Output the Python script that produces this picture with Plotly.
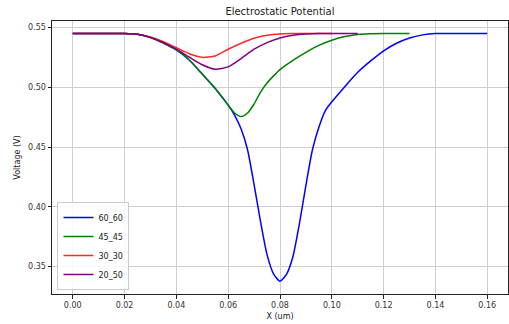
import plotly.graph_objects as go

# ---- data ----
x_60_60 = [0.000, 0.005, 0.010, 0.015, 0.020, 0.025, 0.030, 0.035, 0.040, 0.045,
           0.050, 0.055, 0.060, 0.0625, 0.065, 0.0675, 0.070, 0.0725, 0.075, 0.0775,
           0.080, 0.0825, 0.085, 0.0875, 0.090, 0.0925, 0.095, 0.0975, 0.100, 0.105,
           0.110, 0.115, 0.120, 0.125, 0.130, 0.135, 0.140, 0.145, 0.150, 0.155, 0.160]
v_60_60 = [0.545, 0.545, 0.545, 0.545, 0.545, 0.5443, 0.5415, 0.5370, 0.5312, 0.5228,
           0.5110, 0.4990, 0.4850, 0.4765, 0.4650, 0.4475, 0.4185, 0.3875, 0.3600, 0.3440,
           0.3378, 0.3435, 0.3585, 0.3860, 0.4180, 0.4475, 0.4665, 0.4805, 0.4878, 0.5005,
           0.5125, 0.5220, 0.5305, 0.5368, 0.5412, 0.5438, 0.5450, 0.545, 0.545, 0.545, 0.545]

x_45_45 = [0.000, 0.005, 0.010, 0.015, 0.020, 0.025, 0.030, 0.035, 0.040, 0.045,
           0.050, 0.055, 0.060, 0.0625, 0.065, 0.0675, 0.070, 0.0725, 0.075, 0.0775,
           0.080, 0.085, 0.090, 0.095, 0.100, 0.105, 0.110, 0.115, 0.120, 0.125, 0.130]
v_45_45 = [0.545, 0.545, 0.545, 0.545, 0.545, 0.5443, 0.5415, 0.5370, 0.5312, 0.5228,
           0.5110, 0.4990, 0.4850, 0.4785, 0.4755, 0.4785, 0.4860, 0.4960, 0.5035, 0.5095,
           0.5148, 0.5225, 0.5292, 0.5350, 0.5393, 0.5424, 0.5442, 0.5448, 0.545, 0.545, 0.545]

x_30_30 = [0.000, 0.005, 0.010, 0.015, 0.020, 0.025, 0.030, 0.035, 0.040, 0.045,
           0.050, 0.055, 0.060, 0.065, 0.070, 0.075, 0.080, 0.085, 0.090, 0.095, 0.100]
v_30_30 = [0.545, 0.545, 0.545, 0.545, 0.545, 0.5444, 0.5420, 0.5380, 0.5330, 0.5280,
           0.5250, 0.5262, 0.5318, 0.5368, 0.5410, 0.5435, 0.5446, 0.5449, 0.545, 0.545, 0.545]

x_20_50 = [0.000, 0.005, 0.010, 0.015, 0.020, 0.025, 0.030, 0.035, 0.040, 0.045,
           0.050, 0.055, 0.060, 0.065, 0.070, 0.075, 0.080, 0.085, 0.090, 0.095,
           0.100, 0.105, 0.110]
v_20_50 = [0.545, 0.545, 0.545, 0.545, 0.545, 0.5443, 0.5417, 0.5373, 0.5318, 0.5252,
           0.5188, 0.5150, 0.5170, 0.5240, 0.5318, 0.5373, 0.5412, 0.5434, 0.5445, 0.5449,
           0.545, 0.545, 0.545]

series = [
    ("60_60", x_60_60, v_60_60, "#0000ff"),
    ("45_45", x_45_45, v_45_45, "#008000"),
    ("30_30", x_30_30, v_30_30, "rgba(255,0,0,0.85)"),
    ("20_50", x_20_50, v_20_50, "#800080"),
]

x_ticks = [0.00, 0.02, 0.04, 0.06, 0.08, 0.10, 0.12, 0.14, 0.16]
y_ticks = [0.35, 0.40, 0.45, 0.50, 0.55]

fig = go.Figure()
for name, xs, ys, col in series:
    fig.add_trace(go.Scatter(x=xs, y=ys, mode="lines", name=name,
                             line=dict(color=col, width=1.5, shape="spline", smoothing=0.6)))

font = "DejaVu Sans, sans-serif"
axis_common = dict(
    showgrid=True, gridcolor="#cfcfcf", gridwidth=1,
    showline=True, linecolor="#222", linewidth=1, mirror=True,
    ticks="outside", ticklen=3.5, tickcolor="#222", tickwidth=0.8,
    tickfont=dict(family=font, size=8, color="#333"),
    zeroline=False,
)

fig.update_layout(
    width=509, height=324,
    margin=dict(l=52, r=1, t=21, b=30),
    paper_bgcolor="white", plot_bgcolor="white",
    title=dict(text="Electrostatic Potential", x=0.55, xanchor="center", y=0.975, yanchor="top",
               font=dict(family=font, size=10, color="#222")),
    xaxis=dict(range=[-0.008, 0.168], tickvals=x_ticks, tickformat=".2f",
               title=dict(text="X (um)", font=dict(family=font, size=8, color="#222"), standoff=4),
               **axis_common),
    yaxis=dict(range=[0.3271, 0.5554], tickvals=y_ticks, tickformat=".2f",
               title=dict(text="Voltage (V)", font=dict(family=font, size=8, color="#222"), standoff=6),
               **axis_common),
    legend=dict(x=0.012, y=0.015, xanchor="left", yanchor="bottom",
                bgcolor="rgba(255,255,255,0.85)", bordercolor="#ccc", borderwidth=1,
                font=dict(family=font, size=8, color="#222"), tracegroupgap=0,
                itemwidth=30),
    showlegend=True,
)

fig.write_html("out.html")
